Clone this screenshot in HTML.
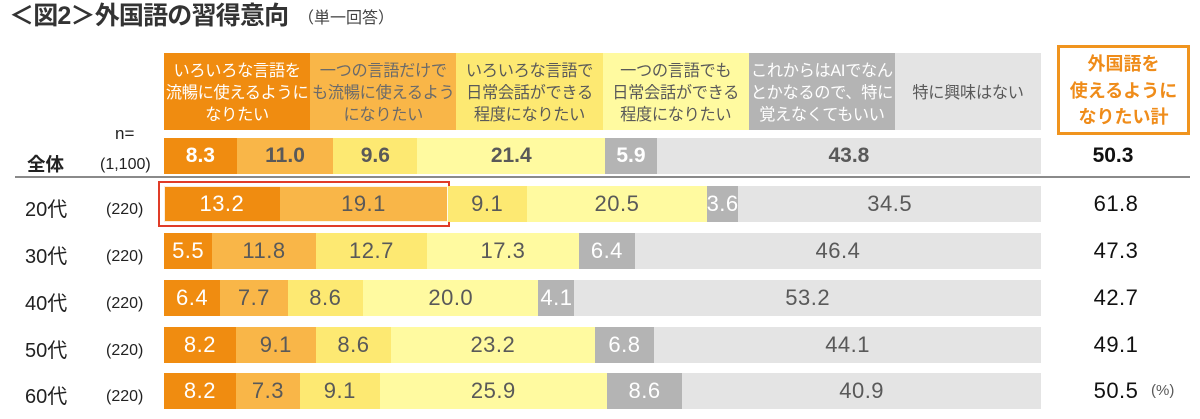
<!DOCTYPE html>
<html><head><meta charset="utf-8">
<style>
*{margin:0;padding:0;box-sizing:border-box}
body{width:1200px;height:419px;background:#fff;position:relative;overflow:hidden;font-family:"Liberation Sans","Noto Sans CJK JP",sans-serif;color:#595959}
.abs{position:absolute}
.title{left:9px;top:0;height:32px;line-height:32px;font-size:25px;font-weight:bold;color:#333;white-space:nowrap;letter-spacing:-0.8px}
.sub{left:298px;top:3px;height:32px;line-height:32px;font-size:16px;color:#444;white-space:nowrap}
.hdr{top:53px;height:77px;width:146.2px;display:flex;align-items:center;justify-content:center;text-align:center;font-size:16.2px;line-height:22px;white-space:nowrap;letter-spacing:-0.3px;padding-top:2px}
.row{left:164px;width:877px;height:36px;display:flex}
.seg{flex:none;height:100%;display:flex;align-items:center;justify-content:center;white-space:nowrap;overflow:visible;font-size:22px;letter-spacing:0.5px;color:#595959}
.seg:last-child{flex:1 1 0;min-width:0}
.c1{background:#f08c10;color:#fff}
.c2{background:#f9b648}
.c3{background:#fde972}
.c4{background:#fffaa0}
.c5{background:#b4b4b4;color:#fff}
.c6{background:#e4e4e4}
.all .seg{font-weight:bold;font-size:21px;letter-spacing:0}
.lab{left:25px;font-size:20px;color:#222;line-height:24px;height:24px;white-space:nowrap}
.n{left:106px;font-size:16px;color:#222;line-height:24px;height:24px;white-space:nowrap}
.tot{left:1076px;width:80px;text-align:center;font-size:22px;color:#111;line-height:36px;height:36px;letter-spacing:0.5px}
</style></head><body>
<div class="abs title">＜図2＞外国語の習得意向</div>
<div class="abs sub">（単一回答）</div>

<div class="abs hdr" style="left:164px;background:#f08c10;color:#fff">いろいろな言語を<br>流暢に使えるように<br>なりたい</div>
<div class="abs hdr" style="left:310.2px;background:#f9b648;color:#6a6a6a">一つの言語だけで<br>も流暢に使えるよう<br>になりたい</div>
<div class="abs hdr" style="left:456.4px;background:#fde972;color:#595959">いろいろな言語で<br>日常会話ができる<br>程度になりたい</div>
<div class="abs hdr" style="left:602.6px;background:#fffaa0;color:#595959">一つの言語でも<br>日常会話ができる<br>程度になりたい</div>
<div class="abs hdr" style="left:748.8px;background:#b4b4b4;color:#fff">これからはAIでなん<br>とかなるので、特に<br>覚えなくてもいい</div>
<div class="abs hdr" style="left:895px;width:146px;background:#e4e4e4;color:#595959">特に興味はない</div>

<div class="abs" style="left:1057px;top:45px;width:133px;height:90px;border:3.5px solid #f0941e;display:flex;align-items:center;justify-content:center;text-align:center;color:#ef8c1a;font-weight:bold;font-size:18px;line-height:26.5px;padding-top:2px">外国語を<br>使えるように<br>なりたい計</div>

<div class="abs" style="left:115px;top:122px;font-size:17px;color:#222;line-height:24px">n=</div>
<div class="abs" style="left:27px;top:153px;font-size:18.5px;font-weight:bold;color:#222;line-height:24px">全体</div>
<div class="abs" style="left:100px;top:153px;font-size:16px;color:#222;line-height:24px">(1,100)</div>
<div class="abs" style="left:15px;top:176px;width:1175px;height:2px;background:#8a8a8a"></div>

<!-- 全体 -->
<div class="abs row all" style="top:138px">
<div class="seg c1" style="width:8.3%">8.3</div><div class="seg c2" style="width:11.0%">11.0</div><div class="seg c3" style="width:9.6%">9.6</div><div class="seg c4" style="width:21.4%">21.4</div><div class="seg c5" style="width:5.9%">5.9</div><div class="seg c6">43.8</div>
</div>
<div class="abs tot" style="top:138px;left:1073px;font-weight:bold;font-size:21px;letter-spacing:0">50.3</div>

<!-- 20代 -->
<div class="abs" style="left:158px;top:181px;width:292px;height:46px;border:2.5px solid #e03c28"></div>
<div class="abs row" style="top:186px">
<div class="seg c1" style="width:13.2%">13.2</div><div class="seg c2" style="width:19.1%">19.1</div><div class="seg c3" style="width:9.1%">9.1</div><div class="seg c4" style="width:20.5%">20.5</div><div class="seg c5" style="width:3.6%">3.6</div><div class="seg c6">34.5</div>
</div>
<div class="abs" style="left:164px;top:186px;width:284px;height:36px;border:1px solid rgba(255,255,255,0.85)"></div>
<div class="abs lab" style="top:198px">20代</div><div class="abs n" style="top:198px">(220)</div>
<div class="abs tot" style="top:186px">61.8</div>

<!-- 30代 -->
<div class="abs row" style="top:233px">
<div class="seg c1" style="width:5.5%">5.5</div><div class="seg c2" style="width:11.8%">11.8</div><div class="seg c3" style="width:12.7%">12.7</div><div class="seg c4" style="width:17.3%">17.3</div><div class="seg c5" style="width:6.4%">6.4</div><div class="seg c6">46.4</div>
</div>
<div class="abs lab" style="top:245px">30代</div><div class="abs n" style="top:245px">(220)</div>
<div class="abs tot" style="top:233px">47.3</div>

<!-- 40代 -->
<div class="abs row" style="top:280px">
<div class="seg c1" style="width:6.4%">6.4</div><div class="seg c2" style="width:7.7%">7.7</div><div class="seg c3" style="width:8.6%">8.6</div><div class="seg c4" style="width:20.0%">20.0</div><div class="seg c5" style="width:4.1%">4.1</div><div class="seg c6">53.2</div>
</div>
<div class="abs lab" style="top:292px">40代</div><div class="abs n" style="top:292px">(220)</div>
<div class="abs tot" style="top:280px">42.7</div>

<!-- 50代 -->
<div class="abs row" style="top:327px">
<div class="seg c1" style="width:8.2%">8.2</div><div class="seg c2" style="width:9.1%">9.1</div><div class="seg c3" style="width:8.6%">8.6</div><div class="seg c4" style="width:23.2%">23.2</div><div class="seg c5" style="width:6.8%">6.8</div><div class="seg c6">44.1</div>
</div>
<div class="abs lab" style="top:339px">50代</div><div class="abs n" style="top:339px">(220)</div>
<div class="abs tot" style="top:327px">49.1</div>

<!-- 60代 -->
<div class="abs row" style="top:373px">
<div class="seg c1" style="width:8.2%">8.2</div><div class="seg c2" style="width:7.3%">7.3</div><div class="seg c3" style="width:9.1%">9.1</div><div class="seg c4" style="width:25.9%">25.9</div><div class="seg c5" style="width:8.6%">8.6</div><div class="seg c6">40.9</div>
</div>
<div class="abs lab" style="top:385px">60代</div><div class="abs n" style="top:385px">(220)</div>
<div class="abs tot" style="top:373px">50.5</div>
<div class="abs" style="left:1151px;top:380px;font-size:15px;color:#595959;line-height:22px">(%)</div>
</body></html>
